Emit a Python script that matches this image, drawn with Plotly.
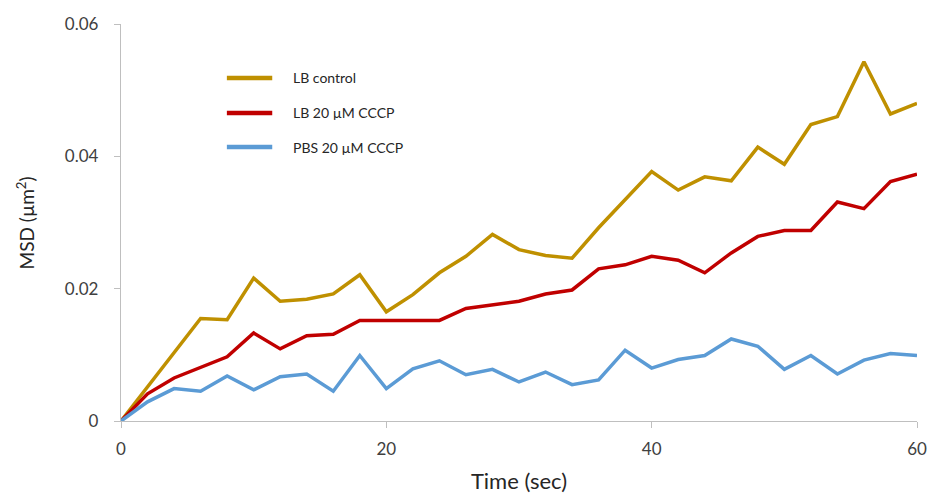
import plotly.graph_objects as go

# Time points (sec)
time_sec = list(range(0, 61, 2))

# Mean squared displacement (µm²) per condition
lb_control = [0.0, 0.0052, 0.0104, 0.0155, 0.0153, 0.0216, 0.0181, 0.0184, 0.0192, 0.0221,
              0.0165, 0.0191, 0.0224, 0.0249, 0.0282, 0.0259, 0.0250, 0.0246, 0.0292, 0.0334,
              0.0377, 0.0349, 0.0369, 0.0363, 0.0414, 0.0388, 0.0448, 0.0460, 0.0543, 0.0464,
              0.0480]
lb_cccp = [0.0, 0.0041, 0.0065, 0.0081, 0.0097, 0.0133, 0.0109, 0.0129, 0.0131, 0.0152,
           0.0152, 0.0153, 0.0152, 0.0170, 0.0176, 0.0181, 0.0192, 0.0198, 0.0230, 0.0236,
           0.0249, 0.0243, 0.0224, 0.0254, 0.0279, 0.0288, 0.0288, 0.0331, 0.0321, 0.0362,
           0.0373]
pbs_cccp = [0.0, 0.0029, 0.0049, 0.0045, 0.0068, 0.0047, 0.0067, 0.0071, 0.0045, 0.0099,
            0.0049, 0.0079, 0.0091, 0.0070, 0.0078, 0.0059, 0.0074, 0.0055, 0.0062, 0.0107,
            0.0080, 0.0093, 0.0099, 0.0124, 0.0113, 0.0078, 0.0099, 0.0071, 0.0092, 0.0102,
            0.0099]

series_names = ["LB control", "LB 20 µM CCCP", "PBS 20 µM CCCP"]
series_values = [lb_control, lb_cccp, pbs_cccp]
series_colors = ["#BF9000", "#C00000", "#5B9BD5"]

x_ticks = [0, 20, 40, 60]
y_ticks = [0, 0.02, 0.04, 0.06]
y_tick_labels = ["0", "0.02", "0.04", "0.06"]

FONT = "Lato, 'Open Sans', sans-serif"
TEXT = "#404040"
AXIS = "#BFBFBF"

fig = go.Figure()
for name, vals, col in zip(series_names, series_values, series_colors):
    fig.add_trace(go.Scatter(x=time_sec, y=vals, mode="lines", name=name,
                             line=dict(color=col, width=3.5), showlegend=False))

# Legend drawn as short line swatches with labels inside the plot area
legend_y = [0.864, 0.776, 0.690]
for name, col, ly in zip(series_names, series_colors, legend_y):
    fig.add_shape(type="line", xref="paper", yref="paper", x0=0.133, x1=0.190,
                  y0=ly, y1=ly, line=dict(color=col, width=4.5))
    fig.add_annotation(xref="paper", yref="paper", x=0.2136, y=ly, text=name,
                       showarrow=False, xanchor="left", yanchor="middle",
                       font=dict(family=FONT, size=14, color="#262626"))

# Y-axis title, centred on the plot area
fig.add_annotation(xref="paper", yref="paper", x=-0.1194, y=0.5, text="MSD (µm<sup>2</sup>)",
                   textangle=-90, showarrow=False, xanchor="center", yanchor="middle",
                   font=dict(family=FONT, size=19, color="#262626"))

fig.update_layout(
    width=932, height=502,
    margin=dict(l=121, r=15, t=24, b=81),
    plot_bgcolor="white", paper_bgcolor="white",
    font=dict(family=FONT, color=TEXT),
    xaxis=dict(range=[0, 60], tickvals=x_ticks, ticks="outside", ticklen=6,
               tickcolor=AXIS, showline=True, linecolor=AXIS, linewidth=1.3,
               showgrid=False, zeroline=False, tickfont=dict(size=17, color=TEXT),
               ticklabelstandoff=6, automargin=False,
               title=dict(text="Time (sec)", font=dict(size=22, color="#262626"),
                          standoff=16)),
    yaxis=dict(range=[0, 0.06], tickvals=y_ticks, ticktext=y_tick_labels,
               ticks="outside", ticklen=6, tickcolor=AXIS, showline=True,
               linecolor=AXIS, linewidth=1.3, showgrid=False, zeroline=False,
               tickfont=dict(size=17, color=TEXT), ticklabelstandoff=12,
               automargin=False),
)

fig.write_html("out.html")
